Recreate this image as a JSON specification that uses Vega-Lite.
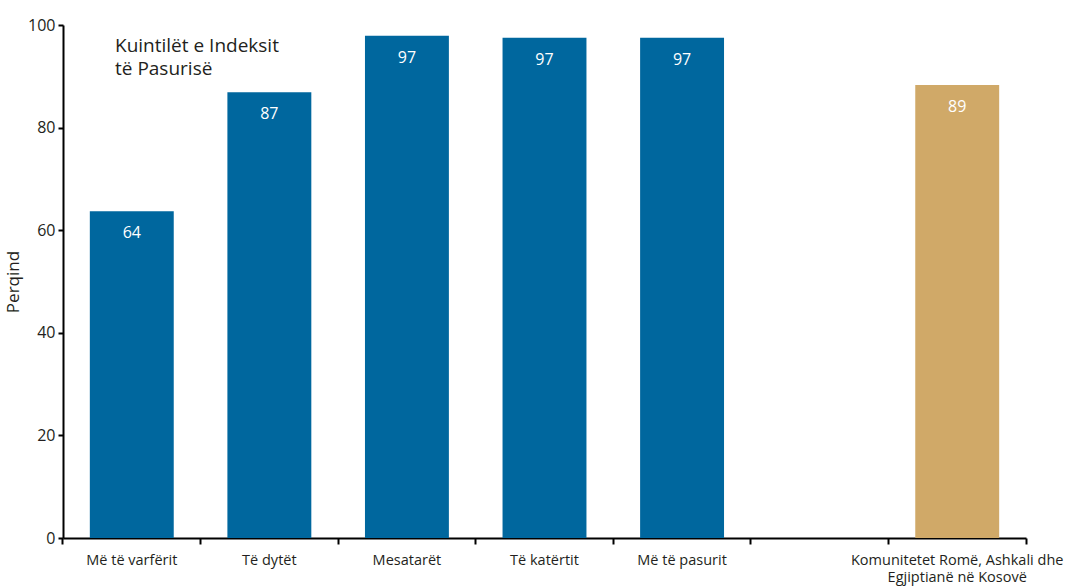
{
  "$schema": "https://vega.github.io/schema/vega-lite/v6.json",
  "width": 963,
  "height": 513,
  "autosize": "none",
  "padding": {"left": 63, "top": 25, "right": 62, "bottom": 50},
  "background": "white",
  "config": {
    "view": {"stroke": null},
    "font": "Open Sans",
    "axis": {"labelFont": "Open Sans", "titleFont": "Open Sans", "labelColor": "#231f20", "titleColor": "#231f20", "grid": false}
  },
  "datasets": {
    "bars": [
      {"cat": "Më të varfërit", "value": 63.7, "label": "64", "group": "Kuintilët"},
      {"cat": "Të dytët", "value": 86.9, "label": "87", "group": "Kuintilët"},
      {"cat": "Mesatarët", "value": 97.9, "label": "97", "group": "Kuintilët"},
      {"cat": "Të katërtit", "value": 97.5, "label": "97", "group": "Kuintilët"},
      {"cat": "Më të pasurit", "value": 97.5, "label": "97", "group": "Kuintilët"},
      {"cat": "Komunitetet Romë, Ashkali dhe|Egjiptianë në Kosovë", "value": 88.3, "label": "89", "group": "RAE"}
    ],
    "note": [
      {"cat": "Më të varfërit", "value": 96.0, "text": ["Kuintilët e Indeksit", "të Pasurisë"]}
    ]
  },
  "layer": [
    {
      "data": {"name": "bars"},
      "mark": {"type": "bar", "width": {"band": 0.61}},
      "encoding": {
        "x": {
          "field": "cat", "type": "nominal",
          "scale": {"domain": ["Më të varfërit", "Të dytët", "Mesatarët", "Të katërtit", "Më të pasurit", " ", "Komunitetet Romë, Ashkali dhe|Egjiptianë në Kosovë"], "paddingInner": 0, "paddingOuter": 0},
          "axis": {
            "title": null, "labelAngle": 0, "bandPosition": 1, "tickExtra": true,
            "labelExpr": "split(datum.label, '|')", "labelLimit": 0,
            "labelFontSize": 14.5, "labelPadding": 9, "labelLineHeight": 17,
            "domainColor": "#000000", "domainWidth": 2, "tickColor": "#000000", "tickWidth": 2, "tickSize": 6,
            "labelBaseline": "top"
          }
        },
        "y": {
          "field": "value", "type": "quantitative",
          "scale": {"domain": [0, 100], "nice": false},
          "axis": {
            "title": "Perqind", "titleFontSize": 17, "titleFontWeight": "normal", "titlePadding": 5,
            "values": [0, 20, 40, 60, 80, 100], "labelFontSize": 16, "labelPadding": 3,
            "domainColor": "#000000", "domainWidth": 2, "tickColor": "#000000", "tickWidth": 2, "tickSize": 5
          }
        },
        "color": {
          "field": "group", "type": "nominal",
          "scale": {"domain": ["Kuintilët", "RAE"], "range": ["#00679E", "#D0A968"]},
          "legend": null
        }
      }
    },
    {
      "data": {"name": "bars"},
      "mark": {"type": "text", "color": "white", "fontSize": 16, "baseline": "middle", "dy": 22},
      "encoding": {
        "x": {"field": "cat", "type": "nominal"},
        "y": {"field": "value", "type": "quantitative"},
        "text": {"field": "label"}
      }
    },
    {
      "data": {"name": "note"},
      "mark": {"type": "text", "color": "#231f20", "fontSize": 19, "align": "left", "baseline": "middle", "lineHeight": 23},
      "encoding": {
        "x": {"field": "cat", "type": "nominal", "bandPosition": 0.378},
        "y": {"field": "value", "type": "quantitative"},
        "text": {"field": "text"}
      }
    }
  ]
}
